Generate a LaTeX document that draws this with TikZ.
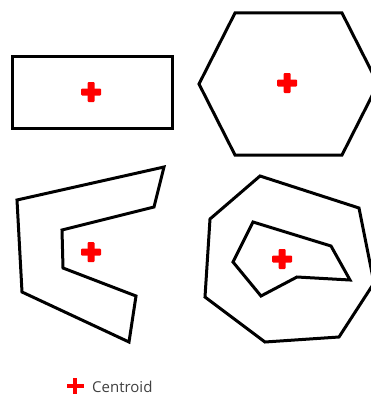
\documentclass[tikz,border=0pt]{standalone}
\usepackage{fontspec}
\setsansfont{Open Sans}
\usepackage{xcolor}
\usetikzlibrary{positioning}
\definecolor{RojoCentro}{RGB}{255,0,0}
\definecolor{GrisTexto}{RGB}{64,64,64}

\tikzset{
  figura/.style={line width=3pt,black,line join=miter},
  centroide/.pic={
    \fill[RojoCentro,rounded corners=1pt] (-10,-3.5) rectangle (10,3.5);
    \fill[RojoCentro,rounded corners=1pt] (-3.5,-10) rectangle (3.5,10);
  },
  centroidepeq/.pic={
    \fill[RojoCentro] (-8.5,-2.2) rectangle (8.5,2.2);
    \fill[RojoCentro] (-2.2,-8) rectangle (2.2,8);
  }
}

\begin{document}
\begin{tikzpicture}[x=1pt,y=-1pt]
  \useasboundingbox (0,0) rectangle (371,396);
  \clip (0,0) rectangle (371,396);

  % Rectangulo
  \draw[figura] (12,57) rectangle (172,128);
  \pic at (91,92) {centroide};

  % Hexagono
  \draw[figura] (235,13) -- (342,13) -- (378,84) -- (342,155)
    -- (235,155) -- (199,84) -- cycle;
  \pic at (287,83) {centroide};

  % Forma en C
  \draw[figura] (17,200) -- (164,167) -- (154,207) -- (62,230)
    -- (63,268) -- (136,296) -- (129,342) -- (22,292) -- cycle;
  \pic at (91,252) {centroide};

  % Poligono con hueco
  \draw[figura] (260,176) -- (359,208) -- (374,283) -- (339,337)
    -- (265,342) -- (205,297) -- (210,219) -- cycle;
  \draw[figura] (253,222) -- (331,246) -- (350,280) -- (297,277)
    -- (261,296) -- (233,262) -- cycle;
  \pic at (282,259) {centroide};

  % Leyenda
  \pic at (75,386) {centroidepeq};
  \node[font=\sffamily\fontsize{15}{17}\selectfont,text=GrisTexto,anchor=west,inner sep=0pt]
    (leyenda) at (92,387) {Centroid};
\end{tikzpicture}
\end{document}
